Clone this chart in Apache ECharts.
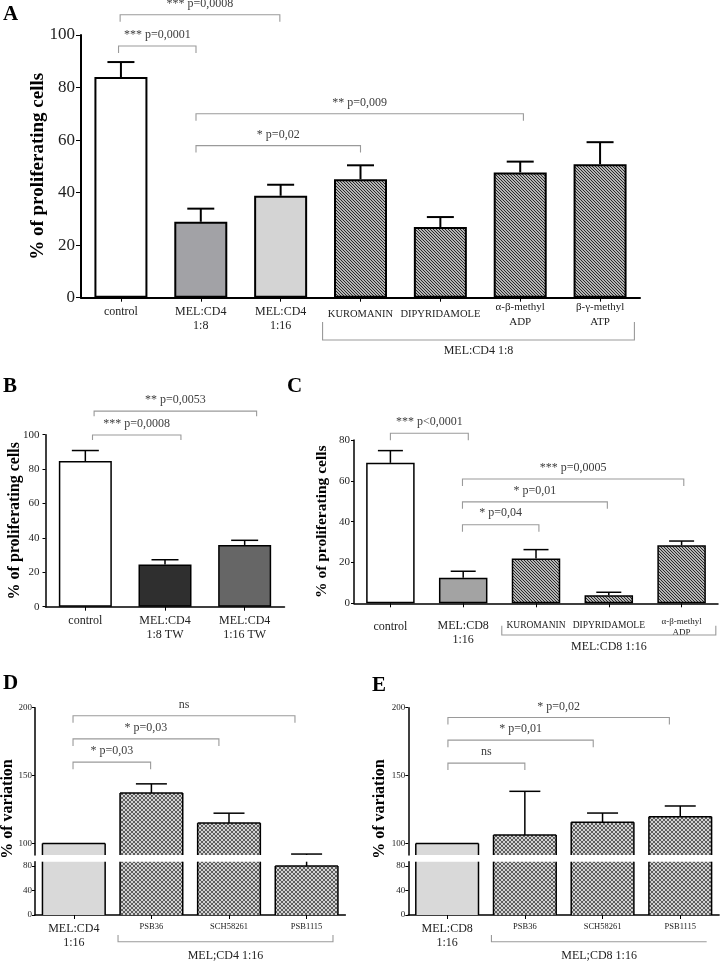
<!DOCTYPE html>
<html><head><meta charset="utf-8">
<script src="https://cdn.jsdelivr.net/npm/echarts@6/dist/echarts.min.js"></script>
<style>html,body{margin:0;padding:0;background:#fff}#c{width:720px;height:975px}</style>
</head><body><div id="c"></div>
<script>
// ---------------- DATA ----------------
// Panel A
const catsA = ['control', 'MEL:CD4\n1:8', 'MEL:CD4\n1:16', 'KUROMANIN', 'DIPYRIDAMOLE', 'α-β-methyl\nADP', 'β-γ-methyl\nATP'];
const valsA = [84.0, 28.9, 38.8, 45.1, 26.9, 47.7, 50.8];
const errA  = [5.7, 5.0, 4.2, 5.3, 3.8, 4.1, 8.4];
const ticksA = [0, 20, 40, 60, 80, 100];
const sigA = [
  [-0.03, 0.94, 95.8, '*** p=0,0001'],
  [-0.01, 1.99, 107.7, '*** p=0,0008'],
  [0.94, 5.04, 70.0, '** p=0,009'],
  [0.94, 3.00, 57.9, '* p=0,02']
];
const groupA = [2.525, 6.43, 'MEL:CD4 1:8'];

// Panel B
const catsB = ['control', 'MEL:CD4\n1:8 TW', 'MEL:CD4\n1:16 TW'];
const valsB = [84.7, 24.6, 35.9];
const errB  = [6.1, 2.7, 2.7];
const ticksB = [0, 20, 40, 60, 80, 100];
const sigB = [
  [0.09, 1.20, 99.8, '*** p=0,0008'],
  [0.11, 2.15, 113.7, '** p=0,0053']
];

// Panel C
const catsC = ['control', 'MEL:CD8\n1:16', 'KUROMANIN', 'DIPYRIDAMOLE', 'α-β-methyl\nADP'];
const valsC = [68.8, 12.5, 22.0, 3.9, 28.4];
const errC  = [6.0, 3.2, 4.3, 1.5, 2.1];
const ticksC = [0, 20, 40, 60, 80];
const sigC = [
  [0.00, 1.07, 83.3, '*** p<0,0001'],
  [0.99, 4.03, 60.9, '*** p=0,0005'],
  [0.99, 2.98, 49.7, '* p=0,01'],
  [0.99, 2.04, 38.5, '* p=0,04']
];
const groupC = [1.53, 4.47, 'MEL:CD8 1:16'];

// Panel D
const catsD = ['MEL:CD4\n1:16', 'PSB36', 'SCH58261', 'PSB1115'];
const valsD = [100, 137.1, 115.0, 80.0];
const errD  = [null, 6.8, 7.3, 12.2];
const ticksUpper = [100, 150, 200];
const ticksLower = [0, 40, 80];
const sigD = [
  [-0.01, 2.85, 194.1, 'ns'],
  [-0.01, 1.87, 177.0, '* p=0,03'],
  [-0.01, 0.99, 159.9, '* p=0,03']
];
const groupD = [0.57, 3.34, 'MEL;CD4 1:16'];

// Panel E
const catsE = ['MEL:CD8\n1:16', 'PSB36', 'SCH58261', 'PSB1115'];
const valsE = [100, 106.2, 115.6, 119.7];
const errE  = [null, 32.2, 6.8, 7.9];
const sigE = [
  [0.01, 2.86, 192.8, '* p=0,02'],
  [0.01, 1.88, 176.1, '* p=0,01'],
  [0.01, 1.00, 159.2, 'ns']
];
const groupE = [0.57, 3.34, 'MEL;CD8 1:16'];

// ---------------- STYLE HELPERS ----------------
const FF = '"Liberation Serif", "Times New Roman", serif';

function makePattern(size, bg, fg, both) {
  const c = document.createElement('canvas');
  c.width = c.height = size;
  const g = c.getContext('2d');
  g.fillStyle = bg; g.fillRect(0, 0, size, size);
  g.fillStyle = fg;
  for (let i = 0; i < size; i++) {
    g.fillRect(i, i, 1, 1);
    if (both) g.fillRect(size - 1 - i, i, 1, 1);
  }
  return c;
}
const hatchDark = { image: makePattern(3, '#b4b4b4', '#2a2a2a', false), repeat: 'repeat' };
const hatchFine = { image: makePattern(4, '#d2d2d2', '#5e5e5e', true), repeat: 'repeat' };

function clampFn(cs) {
  const lo = cs.y, hi = cs.y + cs.height;
  return y => Math.max(lo, Math.min(hi, y));
}

function errSeries(gi, vals, errs, cap, lw) {
  return {
    type: 'custom', xAxisIndex: gi, yAxisIndex: gi, silent: true, z: 3,
    data: vals.map((v, i) => [i, v, errs[i] == null ? v : v + errs[i]]),
    renderItem(params, api) {
      const i = api.value(0), v = api.value(1), t = api.value(2);
      if (t === v) return;
      const cs = params.coordSys;
      const p0 = api.coord([i, v]), p1 = api.coord([i, t]);
      const lo = cs.y, hi = cs.y + cs.height;
      const cl = clampFn(cs);
      const y0 = cl(p0[1]), y1 = cl(p1[1]);
      const ch = [];
      const st = { stroke: '#000', lineWidth: lw };
      if (y0 !== y1) ch.push({ type: 'line', shape: { x1: p0[0], y1: y0, x2: p0[0], y2: y1 }, style: st });
      if (p1[1] >= lo - 0.5 && p1[1] <= hi + 0.5)
        ch.push({ type: 'line', shape: { x1: p1[0] - cap / 2, y1: p1[1], x2: p1[0] + cap / 2, y2: p1[1] }, style: st });
      return { type: 'group', children: ch };
    }
  };
}

// outline of bars for the broken axis panels (no borders at the break)
function outlineSeries(gi, vals, half, lw) {
  return {
    type: 'custom', xAxisIndex: gi, yAxisIndex: gi, silent: true, z: 3,
    data: vals.map((v, i) => [i, v]),
    renderItem(params, api) {
      const cs = params.coordSys;
      const lo = cs.y, hi = cs.y + cs.height;
      const cl = clampFn(cs);
      const i = api.value(0), v = api.value(1);
      const pt = api.coord([i, v]), pb = api.coord([i, 0]);
      const yt = cl(pt[1]), yb = cl(pb[1]);
      if (yt === yb) return;
      const xl = pt[0] - half, xr = pt[0] + half;
      const st = { stroke: '#000', lineWidth: lw };
      const ch = [
        { type: 'line', shape: { x1: xl, y1: yb, x2: xl, y2: yt }, style: st },
        { type: 'line', shape: { x1: xr, y1: yb, x2: xr, y2: yt }, style: st }
      ];
      if (pt[1] >= lo && pt[1] <= hi) ch.push({ type: 'line', shape: { x1: xl, y1: yt, x2: xr, y2: yt }, style: st });
      return { type: 'group', children: ch };
    }
  };
}

function sigSeries(gi, list, o) {
  return {
    type: 'custom', xAxisIndex: gi, yAxisIndex: gi, silent: true, z: 4,
    data: list.map(d => [0, d[2]]),
    renderItem(params, api) {
      const d = list[params.dataIndex];
      const band = api.size([1, 0])[0];
      const p = api.coord([0, d[2]]);
      const xa = p[0] + d[0] * band, xb = p[0] + d[1] * band, y = p[1];
      return {
        type: 'group', children: [
          { type: 'polyline', shape: { points: [[xa, y + o.tick], [xa, y], [xb, y], [xb, y + o.tick]] },
            style: { stroke: '#9a9a9a', lineWidth: 1.1, fill: 'none' } },
          { type: 'text', x: (xa + xb) / 2, y: y - o.gap,
            style: { text: d[3], align: 'center', verticalAlign: 'middle', font: '12px ' + FF, fill: '#3c3c3c' } }
        ]
      };
    }
  };
}

function groupSeries(gi, g, o) {
  return {
    type: 'custom', xAxisIndex: gi, yAxisIndex: gi, silent: true, z: 4,
    data: [[0, 0]],
    renderItem(params, api) {
      const band = api.size([1, 0])[0];
      const p = api.coord([0, 0]);
      const xa = p[0] + g[0] * band, xb = p[0] + g[1] * band;
      const y1 = p[1] + o.t1, y2 = p[1] + o.t2;
      const pts = [[xa, y1], [xa, y2], [xb, y2]];
      if (o.right !== false) pts.push([xb, y1]);
      return {
        type: 'group', children: [
          { type: 'polyline', shape: { points: pts }, style: { stroke: '#9a9a9a', lineWidth: 1.1, fill: 'none' } },
          { type: 'text', x: (xa + xb) / 2, y: p[1] + o.text,
            style: { text: g[2], align: 'center', verticalAlign: 'middle', font: '12px ' + FF, fill: '#222' } }
        ]
      };
    }
  };
}

function barSeries(gi, vals, fills, width, bw) {
  return {
    type: 'bar', xAxisIndex: gi, yAxisIndex: gi, barWidth: width, silent: true, z: 2,
    data: vals.map((v, i) => ({ value: v, itemStyle: { color: fills[i], borderColor: '#000', borderWidth: bw } }))
  };
}

function yAx(gi, o) {
  const ax = {
    type: 'value', gridIndex: gi, min: o.min, max: o.max,
    splitLine: { show: false },
    axisLine: { show: true, lineStyle: { color: '#000', width: o.lw } },
    axisTick: { show: true, length: o.tl, lineStyle: { color: '#000', width: 1 } },
    axisLabel: { fontFamily: FF, fontSize: o.fs, color: '#1e1e1e', margin: o.margin }
  };
  if (o.interval) ax.interval = o.interval;
  if (o.custom) { ax.axisLabel.customValues = o.custom; ax.axisTick.customValues = o.custom; }
  if (o.name) {
    ax.name = o.name; ax.nameLocation = 'middle'; ax.nameGap = o.nameGap;
    ax.nameMoveOverlap = false;
    ax.nameTextStyle = { fontFamily: FF, fontWeight: 'bold', fontSize: o.nfs, color: '#000' };
  }
  return ax;
}

function xAx(gi, cats, o) {
  return {
    type: 'category', gridIndex: gi, show: o.show !== false,
    data: cats.map((c, i) => ({ value: c, textStyle: o.styles ? o.styles[i] : {} })),
    axisLine: { show: true, onZero: false, lineStyle: { color: '#000', width: o.lw } },
    axisTick: { show: true, alignWithLabel: true, length: 4, lineStyle: { color: '#000', width: 1 } },
    axisLabel: { interval: 0, fontFamily: FF, fontSize: 12, lineHeight: 14, color: '#222', margin: o.margin }
  };
}

// label styles per category (presentation only)
const big = (pad) => ({ fontSize: 12, lineHeight: 14, padding: [pad, 0, 0, 0] });
const small = (fs, lh, pad) => ({ fontSize: fs, lineHeight: lh, padding: [pad, 0, 0, 0] });
const stylesA = [big(5.3), big(5.3), big(5.3), small(10.5, 12, 8.3), small(10.5, 12, 8.3), small(11, 15, 0), small(11, 15, 0)];
const stylesC = [big(14.5), big(13.7), small(9.5, 11, 14.5), small(9.5, 11, 14.5), small(9, 10.5, 11.5)];
const stylesD = [big(0), small(8.5, 10, 0), small(8.5, 10, 0), small(8.5, 10, 0)];

// ---------------- CHART ----------------
const grids = [
  { left: 81, top: 35, width: 559, height: 262.7 },        // 0 A
  { left: 45.5, top: 434.7, width: 239, height: 172 },     // 1 B
  { left: 354, top: 440, width: 364, height: 163.3 },      // 2 C
  { left: 35, top: 707.7, width: 310.4, height: 147.3 },   // 3 D upper
  { left: 35, top: 861.7, width: 310.4, height: 53.3 },    // 4 D lower
  { left: 408.3, top: 707.7, width: 310.8, height: 147.3 },// 5 E upper
  { left: 408.3, top: 861.7, width: 310.8, height: 53.3 }  // 6 E lower
];

const fillsDE = ['#d9d9d9', hatchFine, hatchFine, hatchFine];
const title = '% of proliferating cells';
const option = {
  animation: false,
  backgroundColor: '#fff',
  grid: grids,
  xAxis: [
    xAx(0, catsA, { lw: 2, margin: 2, styles: stylesA }),
    xAx(1, catsB, { lw: 1.5, margin: 7 }),
    xAx(2, catsC, { lw: 1.5, margin: 2, styles: stylesC }),
    xAx(3, catsD, { show: false, lw: 1.5, margin: 7 }),
    xAx(4, catsD, { lw: 1.5, margin: 7, styles: stylesD }),
    xAx(5, catsE, { show: false, lw: 1.5, margin: 7 }),
    xAx(6, catsE, { lw: 1.5, margin: 7, styles: stylesD })
  ],
  yAxis: [
    yAx(0, { min: ticksA[0], max: ticksA[ticksA.length - 1], interval: 20, lw: 2, tl: 5, fs: 17, margin: 6, name: title, nameGap: 33, nfs: 19 }),
    yAx(1, { min: ticksB[0], max: ticksB[ticksB.length - 1], interval: 20, lw: 1.5, tl: 3, fs: 11, margin: 6, name: title, nameGap: 23, nfs: 16 }),
    yAx(2, { min: ticksC[0], max: ticksC[ticksC.length - 1], interval: 20, lw: 1.5, tl: 3, fs: 11, margin: 4, name: title, nameGap: 24, nfs: 15.5 }),
    yAx(3, { min: 91.5, max: 200, custom: ticksUpper, lw: 1.5, tl: 3, fs: 9, margin: 3 }),
    yAx(4, { min: 0, max: 87, custom: ticksLower, lw: 1.5, tl: 3, fs: 9, margin: 3 }),
    yAx(5, { min: 91.5, max: 200, custom: ticksUpper, lw: 1.5, tl: 3, fs: 9, margin: 3 }),
    yAx(6, { min: 0, max: 87, custom: ticksLower, lw: 1.5, tl: 3, fs: 9, margin: 3 })
  ],
  series: [
    barSeries(0, valsA, ['#ffffff', '#a2a2a6', '#d4d4d4', hatchDark, hatchDark, hatchDark, hatchDark], 53, 2),
    errSeries(0, valsA, errA, 27, 2),
    sigSeries(0, sigA, { tick: 7, gap: 11 }),
    groupSeries(0, groupA, { t1: 24.3, t2: 42.3, text: 53.3 }),

    barSeries(1, valsB, ['#ffffff', '#2f2f2f', '#666666'], 53, 1.5),
    errSeries(1, valsB, errB, 27, 1.5),
    sigSeries(1, sigB, { tick: 5, gap: 11.7 }),

    barSeries(2, valsC, ['#ffffff', '#a3a3a3', hatchDark, hatchDark, hatchDark], 48.5, 1.5),
    errSeries(2, valsC, errC, 25, 1.5),
    sigSeries(2, sigC, { tick: 7, gap: 11.5 }),
    groupSeries(2, groupC, { t1: 22.4, t2: 31.7, text: 43.4 }),

    barSeries(3, valsD, fillsDE, 62.7, 0),
    barSeries(4, valsD, fillsDE, 62.7, 0),
    outlineSeries(3, valsD, 31.35, 1.5),
    outlineSeries(4, valsD, 31.35, 1.5),
    errSeries(3, valsD, errD, 31, 1.5),
    errSeries(4, valsD, errD, 31, 1.5),
    sigSeries(3, sigD, { tick: 7, gap: 10.8 }),
    groupSeries(4, groupD, { t1: 20, t2: 26.7, text: 40.7 }),

    barSeries(5, valsE, fillsDE, 62.7, 0),
    barSeries(6, valsE, fillsDE, 62.7, 0),
    outlineSeries(5, valsE, 31.35, 1.5),
    outlineSeries(6, valsE, 31.35, 1.5),
    errSeries(5, valsE, errE, 31, 1.5),
    errSeries(6, valsE, errE, 31, 1.5),
    sigSeries(5, sigE, { tick: 7, gap: 11 }),
    groupSeries(6, groupE, { t1: 20, t2: 26.7, text: 40.7, right: false })
  ],
  graphic: [
    { type: 'text', left: 3, top: 4, style: { text: 'A', font: 'bold 21px ' + FF, fill: '#000' } },
    { type: 'text', left: 3, top: 376, style: { text: 'B', font: 'bold 21px ' + FF, fill: '#000' } },
    { type: 'text', left: 287, top: 376, style: { text: 'C', font: 'bold 21px ' + FF, fill: '#000' } },
    { type: 'text', left: 3, top: 673, style: { text: 'D', font: 'bold 21px ' + FF, fill: '#000' } },
    { type: 'text', left: 372, top: 675, style: { text: 'E', font: 'bold 21px ' + FF, fill: '#000' } },
    { type: 'text', x: 8, y: 809, rotation: Math.PI / 2,
      style: { text: '% of variation', font: 'bold 16px ' + FF, fill: '#000', align: 'center', verticalAlign: 'middle' } },
    { type: 'text', x: 380, y: 809, rotation: Math.PI / 2,
      style: { text: '% of variation', font: 'bold 16px ' + FF, fill: '#000', align: 'center', verticalAlign: 'middle' } }
  ]
};

const chart = echarts.init(document.getElementById('c'), null, { renderer: 'canvas' });
chart.setOption(option);
</script>
</body></html>
